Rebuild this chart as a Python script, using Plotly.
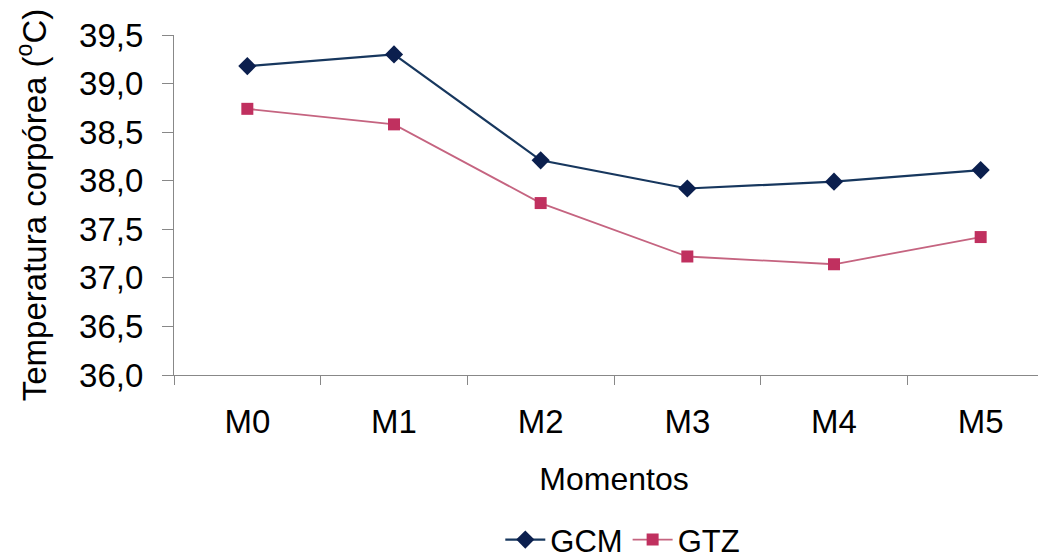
import plotly.graph_objects as go

categories = ["M0", "M1", "M2", "M3", "M4", "M5"]
gcm = [39.18, 39.30, 38.21, 37.92, 37.99, 38.11]
gtz = [38.74, 38.58, 37.77, 37.22, 37.14, 37.42]
y_ticks = [36.0, 36.5, 37.0, 37.5, 38.0, 38.5, 39.0, 39.5]

FONT = "Liberation Sans, Arial, sans-serif"

fig = go.Figure()
fig.add_trace(go.Scatter(
    x=categories, y=gcm, name="GCM", mode="lines+markers",
    line=dict(color="#17375e", width=2.2),
    marker=dict(symbol="diamond", size=14, color="#0b1f4e"),
))
fig.add_trace(go.Scatter(
    x=categories, y=gtz, name="GTZ", mode="lines+markers",
    line=dict(color="#c56480", width=1.8),
    marker=dict(symbol="square", size=12, color="#c0305f"),
))

# page body has an 8px margin; compensate so the plot lands where the reference has it
fig.update_layout(
    width=1046, height=558,
    margin=dict(l=166, r=0, t=27, b=191, autoexpand=False),
    paper_bgcolor="white", plot_bgcolor="white",
    separators=", ",
    font=dict(family=FONT, size=32, color="black"),
    showlegend=True,
    legend=dict(orientation="h", x=0.51, xanchor="center", y=-0.485, yanchor="middle",
                font=dict(size=31), itemwidth=40, tracegroupgap=0),
    xaxis=dict(
        type="category", range=[-0.5, 5.5], automargin=False,
        showline=True, linecolor="#888888", linewidth=1.2,
        ticks="outside", tickson="boundaries", ticklen=9, tickcolor="#888888",
        showgrid=False, zeroline=False,
        tickfont=dict(size=33), ticklabelstandoff=17,
        title=dict(text="Momentos", font=dict(size=32), standoff=28),
    ),
    yaxis=dict(
        range=[36.0, 39.5], tickvals=y_ticks, tickformat=".1f", automargin=False,
        showline=True, linecolor="#888888", linewidth=1.2,
        ticks="outside", ticklen=11, tickcolor="#888888",
        showgrid=False, zeroline=False,
        tickfont=dict(size=33), ticklabelstandoff=12,
        title=dict(text="Temperatura corpórea (<sup>o</sup>C)", font=dict(size=33), standoff=22),
    ),
)

fig.write_html("out.html")
